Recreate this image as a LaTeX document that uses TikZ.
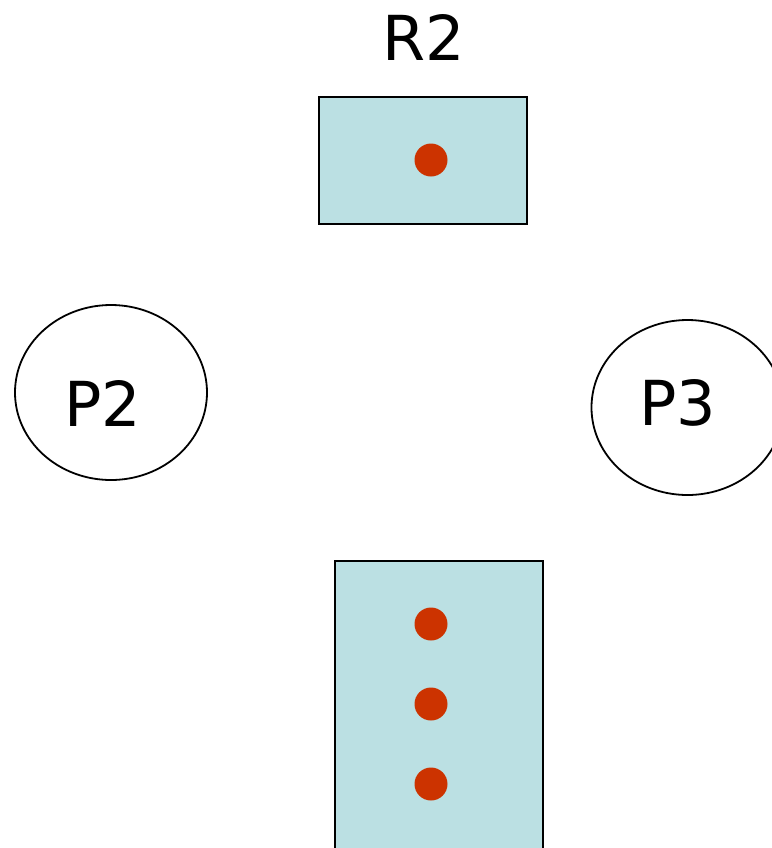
\documentclass[tikz,border=0pt]{standalone}
\usepackage{fontspec}
\setmainfont{DejaVu Sans}
\usetikzlibrary{shapes.geometric}
\definecolor{resfill}{HTML}{BBE0E3}
\definecolor{tokred}{HTML}{CC3300}
\tikzset{
	res/.style={draw,fill=resfill,line width=1pt,inner sep=0pt,minimum width=104pt},
	proc/.style={draw,ellipse,line width=0.9pt,inner sep=0pt,minimum width=96pt,minimum height=87.5pt},
	tok/.style={circle,fill=tokred,inner sep=0pt,minimum size=16.5pt},
	big/.style={font=\fontsize{31}{37}\selectfont,inner sep=0pt}
}
\begin{document}
\begin{tikzpicture}[x=0.5pt,y=-0.5pt]
	\useasboundingbox (0,0) rectangle (772,848);
	\clip (0,0) rectangle (772,848);
	% resources
	\node[res,minimum height=63.5pt] (r2) at (423,160.5) {};
	\node[big] (r2lbl) at (424,37) {R2};
	\node[res,minimum height=169.5pt] (r1) at (439,730.5) {};
	% instances
	\foreach \y [count=\i] in {160,624,704,784}
		\node[tok] (t\i) at (431,\y) {};
	% processes
	\node[proc] (p2) at (111,392.5) {};
	\node[big] (p2lbl) at (102.5,403.5) {P2};
	\node[proc] (p3) at (687.5,407.5) {};
	\node[big] (p3lbl) at (677.5,402.5) {P3};
\end{tikzpicture}
\end{document}
